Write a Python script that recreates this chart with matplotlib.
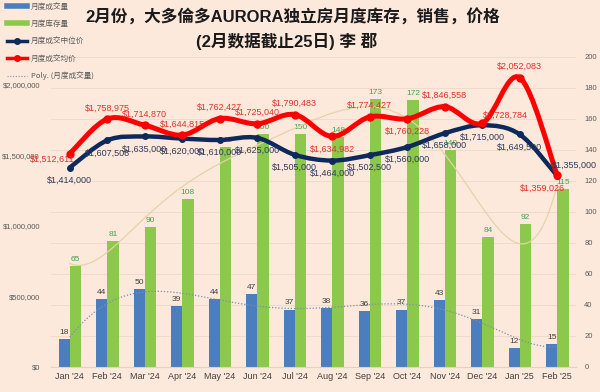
import numpy as np
import matplotlib
matplotlib.use("Agg")
import matplotlib.pyplot as plt
from matplotlib.path import Path
from matplotlib.patches import PathPatch
from matplotlib.lines import Line2D
from matplotlib.ticker import FuncFormatter

plt.rcParams["font.family"] = ["Liberation Sans Narrow", "Liberation Sans", "Noto Sans CJK SC", "DejaVu Sans"]

# --- dados ---
months = ["Jan '24", "Feb '24", "Mar '24", "Apr '24", "May '24", "Jun '24", "Jul '24",
          "Aug '24", "Sep '24", "Oct '24", "Nov '24", "Dec '24", "Jan '25", "Feb '25"]
sales = [18, 44, 50, 39, 44, 47, 37, 38, 36, 37, 43, 31, 12, 15]
inventory = [65, 81, 90, 108, 142, 150, 150, 148, 173, 172, 140, 84, 92, 115]
median_price = [1414000, 1607508, 1635000, 1620000, 1610000, 1625000, 1505000,
                1464000, 1502500, 1560000, 1658000, 1715000, 1649500, 1355000]
avg_price = [1512611, 1758975, 1714870, 1644815, 1762427, 1725040, 1790483,
             1634982, 1774427, 1760228, 1846558, 1728784, 2052083, 1359026]

BG = "#FCE9DC"
BLUE = "#4A7EBF"
GREEN = "#8CC84B"
NAVY = "#0E2A5C"
RED = "#FF0000"


def smooth_path(xs, ys):
    """Curva suave (estilo Excel) passando pelos pontos."""
    pts = np.column_stack([xs, ys]).astype(float)
    n = len(pts)
    verts = [pts[0]]
    codes = [Path.MOVETO]
    for i in range(n - 1):
        p0 = pts[i - 1] if i > 0 else pts[i]
        p1 = pts[i]
        p2 = pts[i + 1]
        p3 = pts[i + 2] if i + 2 < n else pts[i + 1]
        c1 = p1 + (p2 - p0) / 6.0
        c2 = p2 - (p3 - p1) / 6.0
        verts += [c1, c2, p2]
        codes += [Path.CURVE4] * 3
    return Path(verts, codes)


fig = plt.figure(figsize=(6.0, 3.92), dpi=100, facecolor=BG)
ax = fig.add_axes([0.085, 0.064, 0.875, 0.791])
ax.set_facecolor(BG)
x = np.arange(len(months))

# barras no eixo da direita (contagens)
w = 0.3
ax.bar(x - w / 2, sales, width=w, color=BLUE, zorder=2)
ax.bar(x + w / 2, inventory, width=w, color=GREEN, zorder=2)
for xi, v in zip(x, sales):
    ax.text(xi - w / 2, v + 2, str(v), ha="center", va="bottom", fontsize=6, color="#404040")
for xi, v in zip(x, inventory):
    ax.text(xi + w / 2, v + 2, str(v), ha="center", va="bottom", fontsize=6, color="#3FA34D")

# linhas de tendência polinomiais
xf = np.linspace(0, len(months) - 1, 200)
ps = np.polyfit(x, sales, 6)
ax.plot(xf, np.polyval(ps, xf), color="#7F8FA8", lw=0.9, ls=(0, (1, 1.5)), zorder=3)
pi = np.polyfit(x, inventory, 6)
ax.plot(xf, np.polyval(pi, xf), color="#E3D3A8", lw=0.9, zorder=3)

ax.set_ylim(0, 200)
ax.set_yticks(range(0, 201, 20))
ax.set_xlim(-0.5, len(months) - 0.5)
ax.set_xticks(x)
ax.set_xticklabels(months, fontsize=6.5, color="#404040")
ax.tick_params(axis="x", length=0, pad=4)
ax.grid(axis="y", color="#EED8C8", lw=0.6, zorder=0)
for s in ax.spines.values():
    s.set_visible(False)
ax.spines["bottom"].set_visible(True)
ax.spines["bottom"].set_color("#E6D0C0")

# preços no eixo da esquerda
ax2 = ax.twinx()
ax.yaxis.tick_right()
ax.yaxis.set_label_position("right")
ax.tick_params(axis="y", labelsize=5.5, colors="#595959", length=0, pad=6)
ax2.yaxis.tick_left()
ax2.yaxis.set_label_position("left")
ax2.set_ylim(0, 2200000)
ax2.set_yticks(range(0, 2000001, 500000))
ax2.yaxis.set_major_formatter(FuncFormatter(lambda v, p: f"${v:,.0f}"))
ax2.tick_params(axis="y", labelsize=5.5, colors="#595959", length=0, pad=8)
for s in ax2.spines.values():
    s.set_visible(False)

ax2.add_patch(PathPatch(smooth_path(x, median_price), fc="none", ec=NAVY, lw=3.2, zorder=4))
ax2.plot(x, median_price, "o", color=NAVY, ms=4, zorder=5)
ax2.add_patch(PathPatch(smooth_path(x, avg_price), fc="none", ec=RED, lw=3.6, zorder=6))
ax2.plot(x, avg_price, "o", color=RED, ms=5, zorder=7)

# rótulos de preço (deslocamentos em pontos)
med_off = {13: (12, 8)}
avg_off = {0: (-13, -4), 7: (0, -9), 9: (0, -9), 11: (17, 6), 13: (-11, -9)}
for i, v in enumerate(median_price):
    dx, dy = med_off.get(i, (0, -9))
    ax2.annotate(f"${v:,.0f}", (x[i], v), xytext=(dx, dy), textcoords="offset points",
                 ha="center", va="center", fontsize=6.5, color="#2E3A5C", zorder=8)
for i, v in enumerate(avg_price):
    dx, dy = avg_off.get(i, (0, 8))
    ax2.annotate(f"${v:,.0f}", (x[i], v), xytext=(dx, dy), textcoords="offset points",
                 ha="center", va="center", fontsize=6.5, color="#E0302A", zorder=8)

# título
fig.text(0.487, 0.955, "2月份，大多倫多AURORA独立房月度库存，销售，价格",
         ha="center", va="center", fontsize=12, fontweight="bold", color="#1a1a1a",
         family=["Liberation Sans", "Noto Sans CJK SC"])
fig.text(0.477, 0.893, "(2月数据截止25日) 李 郡",
         ha="center", va="center", fontsize=12, fontweight="bold", color="#1a1a1a",
         family=["Liberation Sans", "Noto Sans CJK SC"])

# legenda
handles = [
    Line2D([], [], color=BLUE, lw=4),
    Line2D([], [], color=GREEN, lw=4),
    Line2D([], [], color=NAVY, lw=2.5, marker="o", ms=4),
    Line2D([], [], color=RED, lw=2.5, marker="o", ms=4),
    Line2D([], [], color="#7F8FA8", lw=0.8, ls=(0, (1, 1.5))),
]
labels = ["月度成交量", "月度库存量", "月度成交中位价", "月度成交均价", "Poly. (月度成交量)"]
fig.legend(handles, labels, loc="upper left", bbox_to_anchor=(0.0, 1.01), frameon=False,
           labelcolor="#595959", handlelength=2.6, labelspacing=1.2,
           handletextpad=0.5, prop={"family": ["Noto Sans CJK SC", "DejaVu Sans"], "size": 5.5})

fig.savefig("out.png", dpi=100, facecolor=BG)
